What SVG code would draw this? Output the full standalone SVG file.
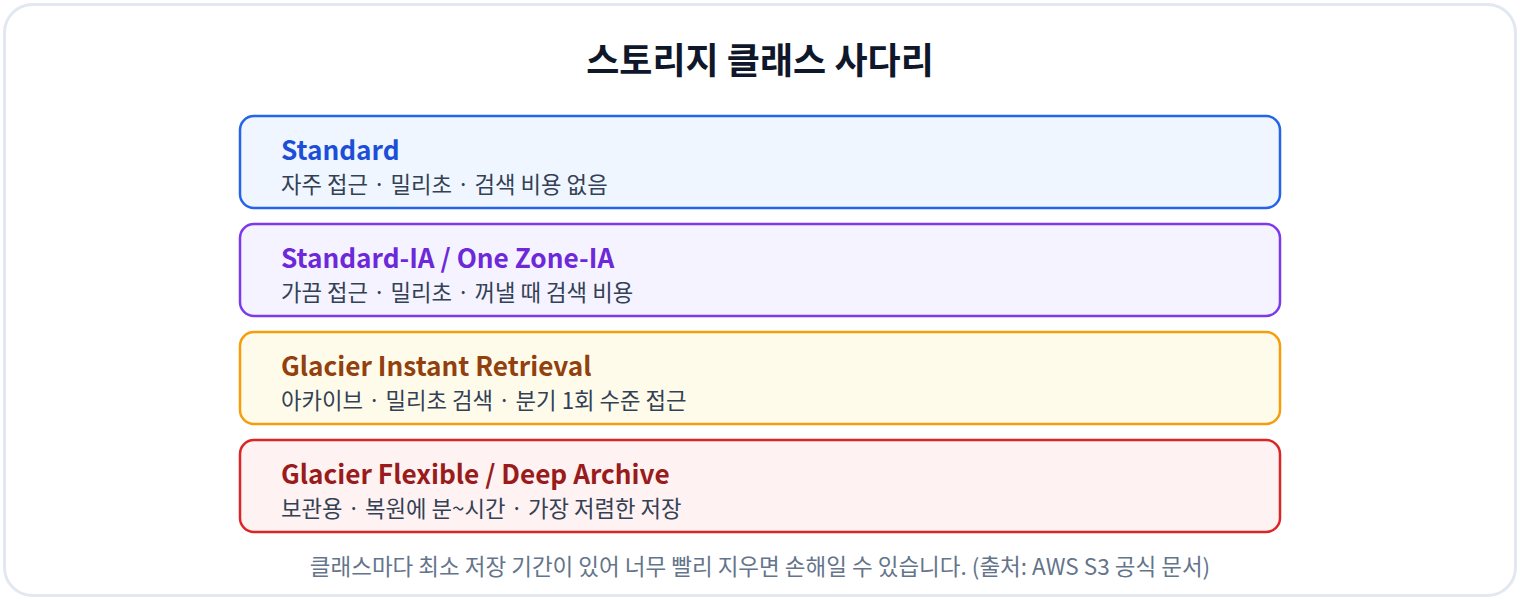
<svg xmlns="http://www.w3.org/2000/svg" width="1520" height="600" viewBox="0 0 1520 600">
<style>
text{font-family:"Noto Sans CJK KR","Noto Sans",sans-serif}
.title{font-size:36px;font-weight:700;fill:#0f172a;text-anchor:middle}
.h{font-size:26.2px;font-weight:700}
.sub{font-size:22.3px;fill:#334155}
.foot{font-size:22.5px;fill:#64748b;text-anchor:middle}
.box{stroke-width:2.5}
</style>
<rect x="4.5" y="4.5" width="1511" height="591" rx="28" fill="#ffffff" stroke="#e2e8f0" stroke-width="3"/>
<text class="title" x="760" y="74">스토리지 클래스 사다리</text>
<g id="standard">
<rect class="box" x="240" y="116" width="1040" height="92" rx="14" fill="#eff6ff" stroke="#2563eb"/>
<text class="h" x="281" y="160" fill="#1d4ed8">Standard</text>
<text class="sub" x="281" y="193">자주 접근 · 밀리초 · 검색 비용 없음</text>
</g>
<g id="standard-ia">
<rect class="box" x="240" y="224" width="1040" height="92" rx="14" fill="#f5f3ff" stroke="#7c3aed"/>
<text class="h" x="281" y="268" fill="#6d28d9">Standard-IA / One Zone-IA</text>
<text class="sub" x="281" y="301">가끔 접근 · 밀리초 · 꺼낼 때 검색 비용</text>
</g>
<g id="glacier-ir">
<rect class="box" x="240" y="332" width="1040" height="92" rx="14" fill="#fffbeb" stroke="#f59e0b"/>
<text class="h" x="281" y="376" fill="#92400e">Glacier Instant Retrieval</text>
<text class="sub" x="281" y="409">아카이브 · 밀리초 검색 · 분기 1회 수준 접근</text>
</g>
<g id="glacier-deep">
<rect class="box" x="240" y="440" width="1040" height="92" rx="14" fill="#fef2f2" stroke="#dc2626"/>
<text class="h" x="281" y="484" fill="#991b1b">Glacier Flexible / Deep Archive</text>
<text class="sub" x="281" y="517">보관용 · 복원에 분~시간 · 가장 저렴한 저장</text>
</g>
<g id="connectors"></g>
<text class="foot" x="760" y="575">클래스마다 최소 저장 기간이 있어 너무 빨리 지우면 손해일 수 있습니다. (출처: AWS S3 공식 문서)</text>
</svg>
